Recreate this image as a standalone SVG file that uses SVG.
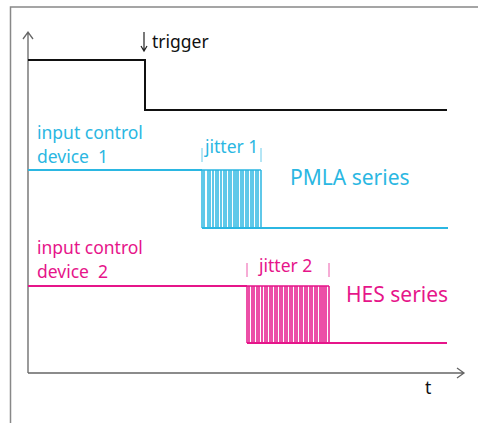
<svg xmlns="http://www.w3.org/2000/svg" width="478" height="423" viewBox="0 0 478 423">
<style>
.frame{stroke:#888;stroke-width:1.5;fill:none}
.axis{stroke:#666;stroke-width:1.3;fill:none}
.sig0{stroke:#111;stroke-width:2;fill:none}
.c{stroke:#2bb7e2;fill:none}
.m{stroke:#e6158a;fill:none}
.t{font-family:"Noto Sans","Open Sans",sans-serif;font-size:17.5px;white-space:pre}
.big{font-size:21px}
.tc{fill:#2bb7e2}
.tm{fill:#e6158a}
.tk{fill:#111}
</style>
<rect width="478" height="423" fill="#fff"/>
<g id="frame">
<path class="frame" d="M10.5,423 V7 H478"/>
</g>
<g id="axes">
<path class="axis" d="M28,373 V33 M23,39 L28,32 L33,39"/>
<path class="axis" d="M28,373 H463 M457,368 L464,373 L457,378"/>
<text class="t tk" x="425" y="394">t</text>
</g>
<g id="trigger-signal">
<path class="sig0" d="M28,60 H145 V110 H447"/>
<path stroke="#222" stroke-width="1.2" fill="none" d="M144,32 V51 M141,46 L144,51 L147,46"/>
<text class="t tk" x="152" y="48">trigger</text>
</g>
<g id="device1">
<text class="t tc" x="37" y="139">input control</text>
<text class="t tc" x="37" y="163" xml:space="preserve">device  1</text>
<path class="c" stroke-width="2" d="M28,170 H202 M202,228 H448"/>
<path class="c" stroke-width="1.5" d="M202,170 H261 M202,170 V228 M204,170 V228 M208,170 V228 M210,170 V228 M213,170 V228 M216,170 V228 M218,170 V228 M221,170 V228 M224,170 V228 M226,170 V228 M229,170 V228 M231,170 V228 M234,170 V228 M236,170 V228 M238,170 V228 M241,170 V228 M243,170 V228 M246,170 V228 M248,170 V228 M251,170 V228 M253,170 V228 M256,170 V228 M258,170 V228 M261,170 V228"/>
<path class="c" stroke-width="1" opacity="0.7" d="M202,148 V162 M261,148 V162"/>
<text class="t tc" x="205" y="153">jitter 1</text>
<text class="t tc big" x="290" y="185">PMLA series</text>
</g>
<g id="device2">
<text class="t tm" x="37" y="254">input control</text>
<text class="t tm" x="37" y="278" xml:space="preserve">device  2</text>
<path class="m" stroke-width="2" d="M28,286 H247 M247,343 H447"/>
<path class="m" stroke-width="1.5" d="M247,286 H329 M247,286 V343 M249,286 V343 M252,286 V343 M254,286 V343 M257,286 V343 M259,286 V343 M262,286 V343 M265,286 V343 M267,286 V343 M270,286 V343 M272,286 V343 M275,286 V343 M277,286 V343 M280,286 V343 M282,286 V343 M285,286 V343 M287,286 V343 M290,286 V343 M292,286 V343 M295,286 V343 M297,286 V343 M300,286 V343 M302,286 V343 M305,286 V343 M307,286 V343 M310,286 V343 M312,286 V343 M315,286 V343 M317,286 V343 M320,286 V343 M322,286 V343 M324,286 V343 M326,286 V343 M329,286 V343"/>
<path class="m" stroke-width="1" opacity="0.7" d="M247,263 V277 M329,263 V277"/>
<text class="t tm" x="259" y="272">jitter 2</text>
<text class="t tm big" x="346" y="302">HES series</text>
</g>
</svg>
